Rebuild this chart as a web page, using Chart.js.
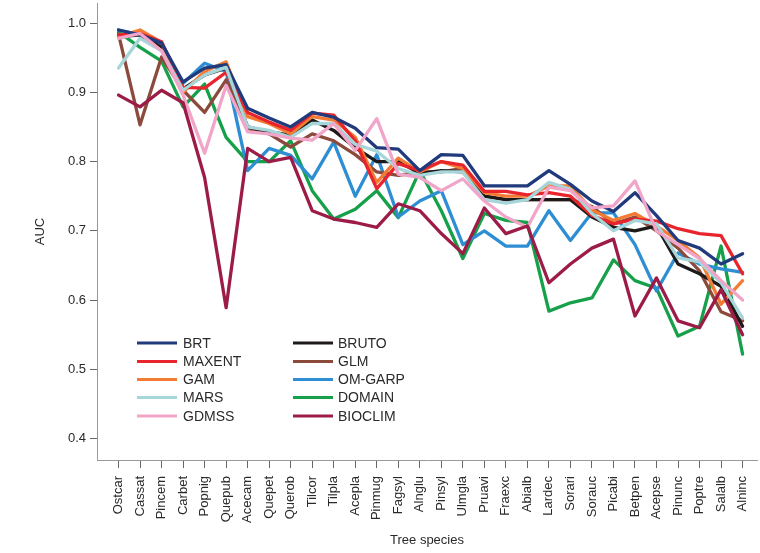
<!DOCTYPE html>
<html>
<head>
<meta charset="utf-8">
<script src="https://cdn.jsdelivr.net/npm/chart.js@4/dist/chart.umd.min.js"></script>
<style>
html,body{margin:0;padding:0;background:#fff;}
#wrap{position:relative;width:760px;height:553px;}
</style>
</head>
<body>
<div id="wrap"><canvas id="c" width="760" height="553"></canvas></div>
<script>
const categories = ["Ostcar","Cassat","Pincem","Carbet","Popnig","Quepub","Acecam","Quepet","Querob","Tilcor","Tilpla","Acepla","Pinmug","Fagsyl","Alnglu","Pinsyl","Ulmgla","Pruavi","Fraexc","Abialb","Lardec","Sorari","Sorauc","Picabi","Betpen","Acepse","Pinunc","Poptre","Salalb","Alninc"];
const yTicks = [0.4,0.5,0.6,0.7,0.8,0.9,1.0];

const BRT     = [0.990,0.983,0.971,0.915,0.935,0.940,0.877,0.863,0.850,0.871,0.864,0.848,0.820,0.818,0.787,0.810,0.809,0.765,0.765,0.765,0.787,0.767,0.743,0.728,0.755,0.722,0.686,0.675,0.652,0.667];
const MAXENT  = [0.983,0.985,0.973,0.907,0.906,0.929,0.871,0.857,0.845,0.870,0.867,0.830,0.761,0.797,0.787,0.800,0.795,0.757,0.757,0.752,0.755,0.750,0.722,0.710,0.717,0.714,0.703,0.696,0.693,0.638];
const GAM     = [0.980,0.990,0.972,0.900,0.930,0.944,0.865,0.855,0.840,0.865,0.860,0.835,0.770,0.805,0.785,0.800,0.790,0.755,0.750,0.750,0.765,0.765,0.730,0.715,0.725,0.707,0.686,0.661,0.594,0.628];
const MARS    = [0.935,0.978,0.960,0.903,0.925,0.936,0.850,0.845,0.835,0.855,0.855,0.825,0.815,0.790,0.780,0.785,0.785,0.745,0.740,0.745,0.770,0.760,0.725,0.700,0.715,0.710,0.661,0.655,0.625,0.574];
const GDMSS   = [0.978,0.985,0.960,0.896,0.812,0.910,0.843,0.840,0.834,0.831,0.855,0.816,0.862,0.782,0.777,0.758,0.775,0.743,0.720,0.705,0.763,0.758,0.733,0.736,0.772,0.700,0.680,0.660,0.628,0.600];
const BRUTO   = [0.980,0.983,0.965,0.905,0.925,0.935,0.850,0.843,0.838,0.860,0.845,0.820,0.800,0.800,0.783,0.787,0.785,0.750,0.745,0.745,0.745,0.745,0.720,0.705,0.700,0.707,0.652,0.638,0.620,0.562];
const GLM     = [0.984,0.853,0.951,0.903,0.871,0.918,0.848,0.840,0.821,0.840,0.830,0.810,0.785,0.780,0.785,0.785,0.790,0.750,0.745,0.745,0.745,0.745,0.735,0.710,0.720,0.700,0.675,0.642,0.583,0.570];
const OMGARP  = [0.990,0.983,0.965,0.913,0.942,0.930,0.787,0.819,0.809,0.775,0.828,0.750,0.810,0.720,0.743,0.758,0.680,0.700,0.678,0.678,0.729,0.686,0.726,0.726,0.680,0.613,0.668,0.652,0.645,0.640];
const DOMAIN  = [0.987,0.965,0.945,0.879,0.912,0.835,0.800,0.800,0.830,0.758,0.717,0.731,0.758,0.719,0.787,0.729,0.660,0.725,0.715,0.712,0.584,0.596,0.603,0.658,0.628,0.617,0.548,0.562,0.678,0.522];
const BIOCLIM = [0.896,0.879,0.903,0.885,0.777,0.589,0.819,0.800,0.806,0.729,0.717,0.712,0.705,0.739,0.729,0.696,0.667,0.733,0.696,0.707,0.625,0.652,0.675,0.688,0.577,0.632,0.570,0.560,0.615,0.550];

const series = [
  {name:"BRT", data:BRT, color:"#203a7c"},
  {name:"MAXENT", data:MAXENT, color:"#e8242c"},
  {name:"GAM", data:GAM, color:"#f47b33"},
  {name:"MARS", data:MARS, color:"#a6d6d9"},
  {name:"GDMSS", data:GDMSS, color:"#f0a5c9"},
  {name:"BRUTO", data:BRUTO, color:"#1e1a1a"},
  {name:"GLM", data:GLM, color:"#8c4a3c"},
  {name:"OM-GARP", data:OMGARP, color:"#2d8ed4"},
  {name:"DOMAIN", data:DOMAIN, color:"#17a04a"},
  {name:"BIOCLIM", data:BIOCLIM, color:"#9c1c47"}
];

const FONT = "'Liberation Sans', Arial, Helvetica, sans-serif";
Chart.defaults.font.family = FONT;

const legendPlugin = {
  id: 'customLegend',
  afterDraw(chart) {
    const ctx = chart.ctx;
    const cols = [{lx:137, tx:183}, {lx:293, tx:338}];
    const rows = [343, 361.5, 379.5, 397.5, 416];
    ctx.save();
    ctx.font = "14px " + FONT;
    ctx.textBaseline = 'middle';
    ctx.textAlign = 'left';
    series.forEach((s, i) => {
      const c = cols[Math.floor(i / 5)];
      const y = rows[i % 5];
      ctx.strokeStyle = s.color;
      ctx.lineWidth = 3;
      ctx.beginPath();
      ctx.moveTo(c.lx, y);
      ctx.lineTo(c.lx + 40, y);
      ctx.stroke();
      ctx.fillStyle = '#2a2a2a';
      ctx.fillText(s.name, c.tx, y + 1);
    });
    ctx.restore();
  }
};

const drawOrder = ["BIOCLIM","GDMSS","MARS","BRT","MAXENT","GAM","BRUTO","GLM","OM-GARP","DOMAIN"];
const datasets = drawOrder.map(n => {
  const s = series.find(q => q.name === n);
  return {
    label: s.name,
    data: s.data.map((v, i) => ({x: i, y: v})),
    borderColor: s.color,
    backgroundColor: s.color,
    borderWidth: 3.3,
    pointRadius: 0,
    tension: 0,
    fill: false
  };
});

new Chart(document.getElementById('c'), {
  type: 'line',
  data: { datasets },
  options: {
    responsive: false,
    animation: false,
    devicePixelRatio: 1,
    layout: { padding: { top: 3, right: 3, left: 0, bottom: 0 } },
    plugins: { legend: { display: false }, tooltip: { enabled: false } },
    elements: { line: { borderJoinStyle: 'round', borderCapStyle: 'round' } },
    scales: {
      x: {
        type: 'linear',
        position: 'bottom',
        min: -1,
        max: 29.67,
        afterBuildTicks: (scale) => { scale.ticks = categories.map((c, i) => ({ value: i })); },
        afterFit: (scale) => { scale.height = 93; scale.paddingLeft = 0; scale.paddingRight = 0; },
        ticks: {
          autoSkip: false,
          minRotation: 90,
          maxRotation: 90,
          padding: 8,
          color: '#2a2a2a',
          font: { size: 13 },
          callback: (v) => categories[v]
        },
        grid: { display: true, drawOnChartArea: false, drawTicks: true, tickLength: 8, color: '#666' },
        border: { display: true, color: '#999', width: 1 },
        title: { display: true, text: 'Tree species', color: '#2a2a2a', font: { size: 13 }, padding: { top: 0, bottom: 5 } }
      },
      y: {
        min: 0.369,
        max: 1.029,
        afterBuildTicks: (scale) => { scale.ticks = yTicks.map(v => ({ value: v })); },
        afterFit: (scale) => { scale.width = 97; scale.paddingTop = 0; scale.paddingBottom = 0; },
        ticks: {
          padding: 4,
          color: '#2a2a2a',
          font: { size: 13 },
          callback: (v) => Number(v).toFixed(1)
        },
        grid: { display: true, drawOnChartArea: false, drawTicks: true, tickLength: 7, color: '#666' },
        border: { display: true, color: '#999', width: 1 },
        title: { display: true, text: 'AUC', color: '#2a2a2a', font: { size: 13 }, padding: { top: 33, bottom: 0 } }
      }
    }
  },
  plugins: [legendPlugin]
});
</script>
</body>
</html>
